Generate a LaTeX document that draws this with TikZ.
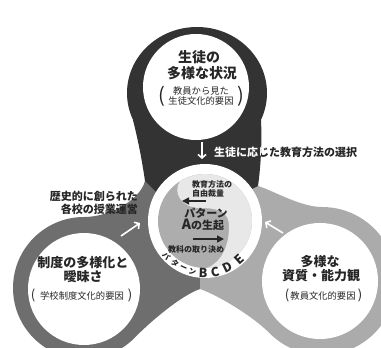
\documentclass[tikz,border=0pt]{standalone}
\usepackage{fontspec}
\setmainfont{Noto Sans CJK JP}
\usetikzlibrary{arrows.meta}
\definecolor{darkc}{HTML}{333333}
\definecolor{midc}{HTML}{6E6E6E}
\definecolor{lightc}{HTML}{ABABAB}
\definecolor{diskc}{HTML}{ADADAD}
\definecolor{lobec}{HTML}{E8E8E8}
\definecolor{txt}{HTML}{262626}
\tikzset{
  every node/.style={inner sep=0pt, text=txt},
  bigtitle/.style={font=\bfseries\fontsize{14}{16}\selectfont},
  sidetitle/.style={font=\bfseries\fontsize{13}{15}\selectfont},
  subtxt/.style={font=\fontsize{9.3}{11}\selectfont},
  bigparen/.style={font=\fontsize{20}{20}\selectfont},
  midparen/.style={font=\fontsize{13}{13}\selectfont},
  histtxt/.style={font=\bfseries\fontsize{11}{12}\selectfont, anchor=east},
  seltxt/.style={font=\bfseries\fontsize{11}{12}\selectfont, anchor=west},
  smalltxt/.style={font=\bfseries\fontsize{8}{9}\selectfont},
  pattxt/.style={font=\bfseries\fontsize{11}{12}\selectfont},
  kana/.style={font=\bfseries\fontsize{7.5}{8}\selectfont},
  letter/.style={font=\bfseries\fontsize{12.5}{13}\selectfont},
  warrow/.style={draw=white, line width=1.6pt, -{Straight Barb[length=3.5pt,width=8pt]}},
  barrow/.style={draw=txt, line width=1.6pt, -{Triangle[length=7pt,width=7pt]}}
}
\begin{document}
\begin{tikzpicture}[x=1pt,y=-1pt]
\useasboundingbox (0,0) rectangle (381,348);
\fill[white] (0,0) rectangle (381,348);
\coordinate (C) at (205,221);
% left blob
\fill[midc] (C) -- (156,192) -- (145,181) .. controls (140,200) and (110,217) .. (84,217)
  arc[start angle=270, end angle=45, radius=71]
  .. controls (149,323) and (180,296) .. (200,289) -- (200,250) -- cycle;
% right blob
\fill[lightc] (C) -- (252,189) -- (258,186) .. controls (272,190) and (300,207) .. (322,207)
  arc[start angle=270, end angle=495, radius=74]
  .. controls (255,318) and (220,296) .. (200,289) -- (200,250) -- cycle;
% top blob
\fill[darkc] (197,93) ellipse[x radius=70, y radius=66];
\fill[darkc] (133,120) .. controls (138,140) and (142,160) .. (145,181) -- (156,192) -- (205,221)
  -- (252,189) -- (258,186) .. controls (261,165) and (262,140) .. (261,120) -- cycle;
% inner white circles
\fill[white] (196,87) circle[radius=53];
\fill[white] (84,289) circle[radius=56];
\fill[white] (320,281) circle[radius=58];
% centre
\fill[white] (C) circle[radius=57];
\fill[diskc] (C) circle[radius=47];
\fill[lobec] (180,181) .. controls (172,193) and (182,208) .. (200,208)
  .. controls (220,208) and (229,212) .. (229,227)
  .. controls (229,245) and (222,262) .. (207,268)
  arc[start angle=87.6, end angle=-122, radius=47] -- cycle;

% top blob text
\node[bigtitle] (t1) at (199,57) {生徒の};
\node[bigtitle] (t2) at (202,73) {多様な状況};
\node[subtxt] (t3) at (201,91) {教員から見た};
\node[subtxt] (t4) at (201,101) {生徒文化的要因};
\node[bigparen] (tp1) at (162,96) {(};
\node[bigparen] (tp2) at (241,96) {)};
% left blob text
\node[sidetitle] (l1) at (83,263) {制度の多様化と};
\node[sidetitle] (l2) at (83,277) {曖昧さ};
\node[subtxt] (l3) at (82,296) {学校制度文化的要因};
\node[midparen] (lp1) at (33,295) {(};
\node[midparen] (lp2) at (130,295) {)};
% right blob text
\node[sidetitle] (r1) at (320,262) {多様な};
\node[sidetitle] (r2) at (321,276) {資質・能力観};
\node[subtxt] (r3) at (323,296) {教員文化的要因};
\node[midparen] (rp1) at (287,295) {(};
\node[midparen] (rp2) at (360,295) {)};

% selection text (black, then white over dark neck)
\node[seltxt] (s1) at (214,152) {生徒に応じた教育方法の選択};
\begin{scope}
\clip (133,120) .. controls (138,140) and (142,160) .. (145,181) -- (156,192) -- (205,221)
  -- (252,189) -- (258,186) .. controls (261,165) and (262,140) .. (261,120) -- cycle;
\node[seltxt, text=white] (s2) at (214,152) {生徒に応じた教育方法の選択};
\end{scope}

% history text
\node[histtxt] (h1) at (138,196) {歴史的に創られた};
\node[histtxt] (h2) at (138,209) {各校の授業運営};

% white arrows
\coordinate (ta1) at (202,142); \coordinate (ta2) at (202,159);
\draw[warrow] (ta1) -- (ta2);
\coordinate (la1) at (121,236); \coordinate (la2) at (140,223);
\draw[warrow] (la1) -- (la2);
\coordinate (ra1) at (283,233); \coordinate (ra2) at (265,222);
\draw[warrow] (ra1) -- (ra2);

% centre texts
\node[smalltxt, anchor=west] (c1) at (192,184) {教育方法の};
\node[smalltxt, anchor=west] (c2) at (192,193) {自由裁量};
\coordinate (ca1) at (206,201); \coordinate (ca2) at (182,201);
\draw[barrow] (ca1) -- (ca2);
\node[pattxt] (c3) at (206,213) {パターン};
\node[pattxt] (c4) at (203,225) {{\fontsize{14}{14}\selectfont A}の生起};
\coordinate (cb1) at (193,239); \coordinate (cb2) at (224,239);
\draw[barrow] (cb1) -- (cb2);
\node[smalltxt] (c5) at (196,249) {教科の取り決め};

% ring text
\node[kana, rotate=-48] (k1) at (166.4,255.8) {パ};
\node[kana, rotate=-35] (k2) at (175.2,263.6) {タ};
\node[kana, rotate=-24.5] (k3) at (183.4,268.3) {ー};
\node[kana, rotate=-14] (k4) at (192.4,271.5) {ン};
\node[letter, rotate=-2] (b1) at (203.2,273.0) {B};
\node[letter, rotate=11] (b2) at (215.2,272.0) {C};
\node[letter, rotate=26] (b3) at (227.8,267.7) {D};
\node[letter, rotate=42] (b4) at (239.8,259.6) {E};
\end{tikzpicture}
\end{document}
